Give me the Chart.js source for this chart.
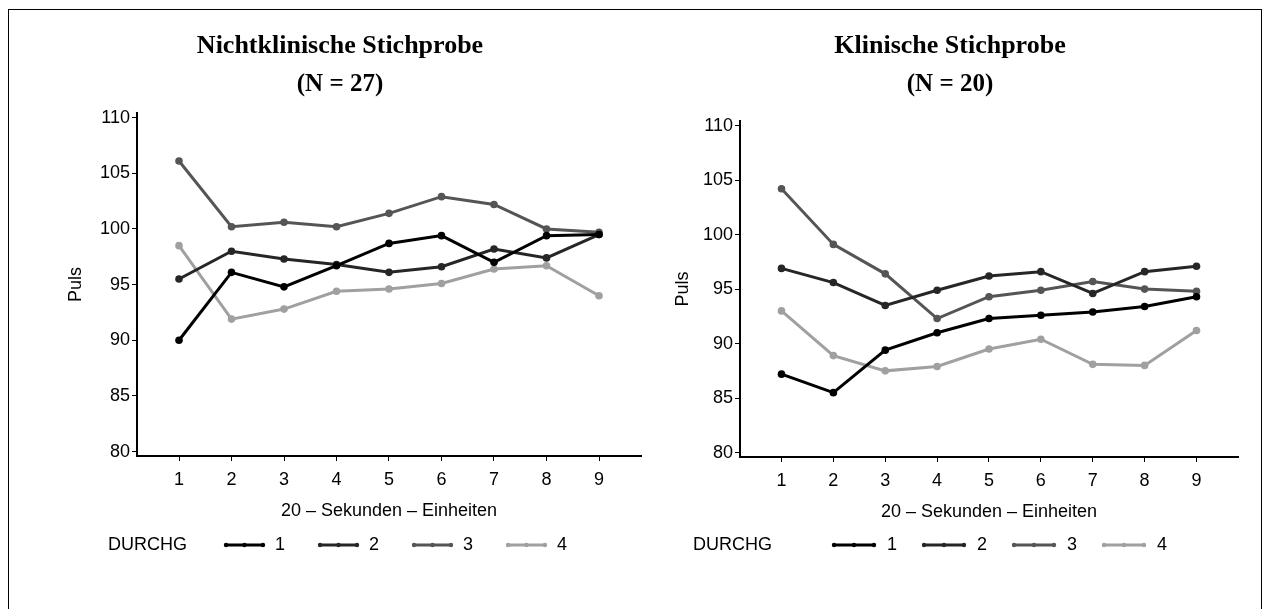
<!DOCTYPE html>
<html>
<head>
<meta charset="utf-8">
<script src="https://cdn.jsdelivr.net/npm/chart.js@4.4.1/dist/chart.umd.min.js"></script>
<style>
html,body{margin:0;padding:0;background:#fff;width:1263px;height:609px;overflow:hidden}
#frame{position:absolute;left:8px;top:9px;width:1252px;height:640px;border:1px solid #000;border-bottom:none}
.box{position:absolute;top:0;height:609px}
#left{left:0;width:650px}
#right{left:640px;width:623px}
</style>
</head>
<body>
<div id="frame"></div>
<div class="box" id="left"><canvas id="c1"></canvas></div>
<div class="box" id="right"><canvas id="c2"></canvas></div>
<script>
// 20-Sekunden-Einheiten
const units=[1,2,3,4,5,6,7,8,9];
const yTicks=[80,85,90,95,100,105,110];
const durchg=["1","2","3","4"];
const colors=["#000000","#262626","#555555","#a0a0a0"];

// Nichtklinische Stichprobe (N = 27)
const nk1=[90.0,96.1,94.8,96.7,98.7,99.4,97.0,99.4,99.5];
const nk2=[95.5,98.0,97.3,96.8,96.1,96.6,98.2,97.4,99.5];
const nk3=[106.1,100.2,100.6,100.2,101.4,102.9,102.2,100.0,99.7];
const nk4=[98.5,91.9,92.8,94.4,94.6,95.1,96.4,96.7,94.0];

// Klinische Stichprobe (N = 20)
const kl1=[87.2,85.5,89.4,91.0,92.3,92.6,92.9,93.4,94.3];
const kl2=[96.9,95.6,93.5,94.9,96.2,96.6,94.6,96.6,97.1];
const kl3=[104.2,99.1,96.4,92.3,94.3,94.9,95.7,95.0,94.8];
const kl4=[93.0,88.9,87.5,87.9,89.5,90.4,88.1,88.0,91.2];

const sans="'Liberation Sans Narrow','Liberation Sans',Arial,sans-serif";
const serif="'Liberation Serif','Times New Roman',serif";

const durchgLegend={
  id:'durchg',
  afterDraw(chart,args,o){
    const ctx=chart.ctx;
    ctx.save();
    ctx.font=o.size+'px '+sans;
    ctx.textBaseline='middle';
    ctx.textAlign='left';
    ctx.fillStyle='#000';
    ctx.fillText(o.title,o.x,o.y);
    let x=o.first;
    chart.data.datasets.forEach(ds=>{
      ctx.strokeStyle=ds.borderColor;
      ctx.lineWidth=3;
      ctx.beginPath();ctx.moveTo(x,o.y);ctx.lineTo(x+o.line,o.y);ctx.stroke();
      ctx.fillStyle=ds.borderColor;
      [0,0.5,1].forEach(f=>{ctx.beginPath();ctx.arc(x+f*o.line,o.y,2.2,0,Math.PI*2);ctx.fill();});
      ctx.fillStyle='#000';
      ctx.fillText(ds.label,x+o.line+o.gap,o.y);
      x+=o.step;
    });
    ctx.restore();
  }
};

function makeChart(id,series,title,sub,lay){
  const datasets=series.map((s,i)=>({
    label:durchg[i],
    data:s.map((v,j)=>({x:units[j],y:v})),
    borderColor:colors[i],
    backgroundColor:colors[i],
    borderWidth:3,
    pointRadius:3.8,
    pointBorderWidth:0,
    tension:0
  }));
  return new Chart(document.getElementById(id),{
    type:'line',
    data:{datasets},
    plugins:[durchgLegend],
    options:{
      responsive:true,
      maintainAspectRatio:false,
      animation:false,
      events:[],
      layout:{padding:{left:lay.padL,right:lay.padR,top:0,bottom:lay.padB}},
      plugins:{
        legend:{display:false},
        tooltip:{enabled:false},
        title:{display:true,text:title,color:'#000',
          font:{family:serif,size:26,weight:'bold',lineHeight:1.2},
          padding:{top:31,bottom:3}},
        subtitle:{display:true,text:sub,color:'#000',
          font:{family:serif,size:25,weight:'bold',lineHeight:1.2},
          padding:{top:4,bottom:lay.subB}},
        durchg:lay.legend
      },
      scales:{
        x:{
          type:'linear',min:0.2,max:9.8,
          afterBuildTicks:s=>{s.ticks=units.map(v=>({value:v}));},
          afterFit:s=>{s.height=70;},
          border:{display:true,color:'#000',width:2},
          grid:{drawOnChartArea:false,drawTicks:true,tickLength:5,color:'#000',lineWidth:1},
          ticks:{color:'#000',padding:8,font:{family:sans,size:18},maxRotation:0,autoSkip:false},
          title:{display:true,text:'20 – Sekunden – Einheiten',color:'#000',
            font:{family:sans,size:18},padding:{top:0,bottom:4}}
        },
        y:{
          min:79.6,max:110.4,
          afterBuildTicks:s=>{s.ticks=yTicks.map(v=>({value:v}));},
          afterFit:s=>{s.width=lay.yW;},
          border:{display:true,color:'#000',width:2},
          grid:{drawOnChartArea:false,drawTicks:true,tickLength:5,color:'#000',lineWidth:1},
          ticks:{color:'#000',padding:2,font:{family:sans,size:18}},
          title:{display:true,text:'Puls',color:'#000',
            font:{family:sans,size:18},padding:{top:lay.pulsPad,bottom:0}}
        }
      }
    }
  });
}

makeChart('c1',[nk1,nk2,nk3,nk4],'Nichtklinische Stichprobe','(N = 27)',{
  padL:39,padR:9,padB:83,yW:98,pulsPad:26,subB:14,
  legend:{title:'DURCHG',x:108,y:545,first:226,line:37,gap:12,step:94,size:18}
});
makeChart('c2',[kl1,kl2,kl3,kl4],'Klinische Stichprobe','(N = 20)',{
  padL:22,padR:25,padB:82,yW:78,pulsPad:10,subB:22,
  legend:{title:'DURCHG',x:53,y:545,first:194,line:40,gap:13,step:90,size:18}
});
</script>
</body>
</html>
